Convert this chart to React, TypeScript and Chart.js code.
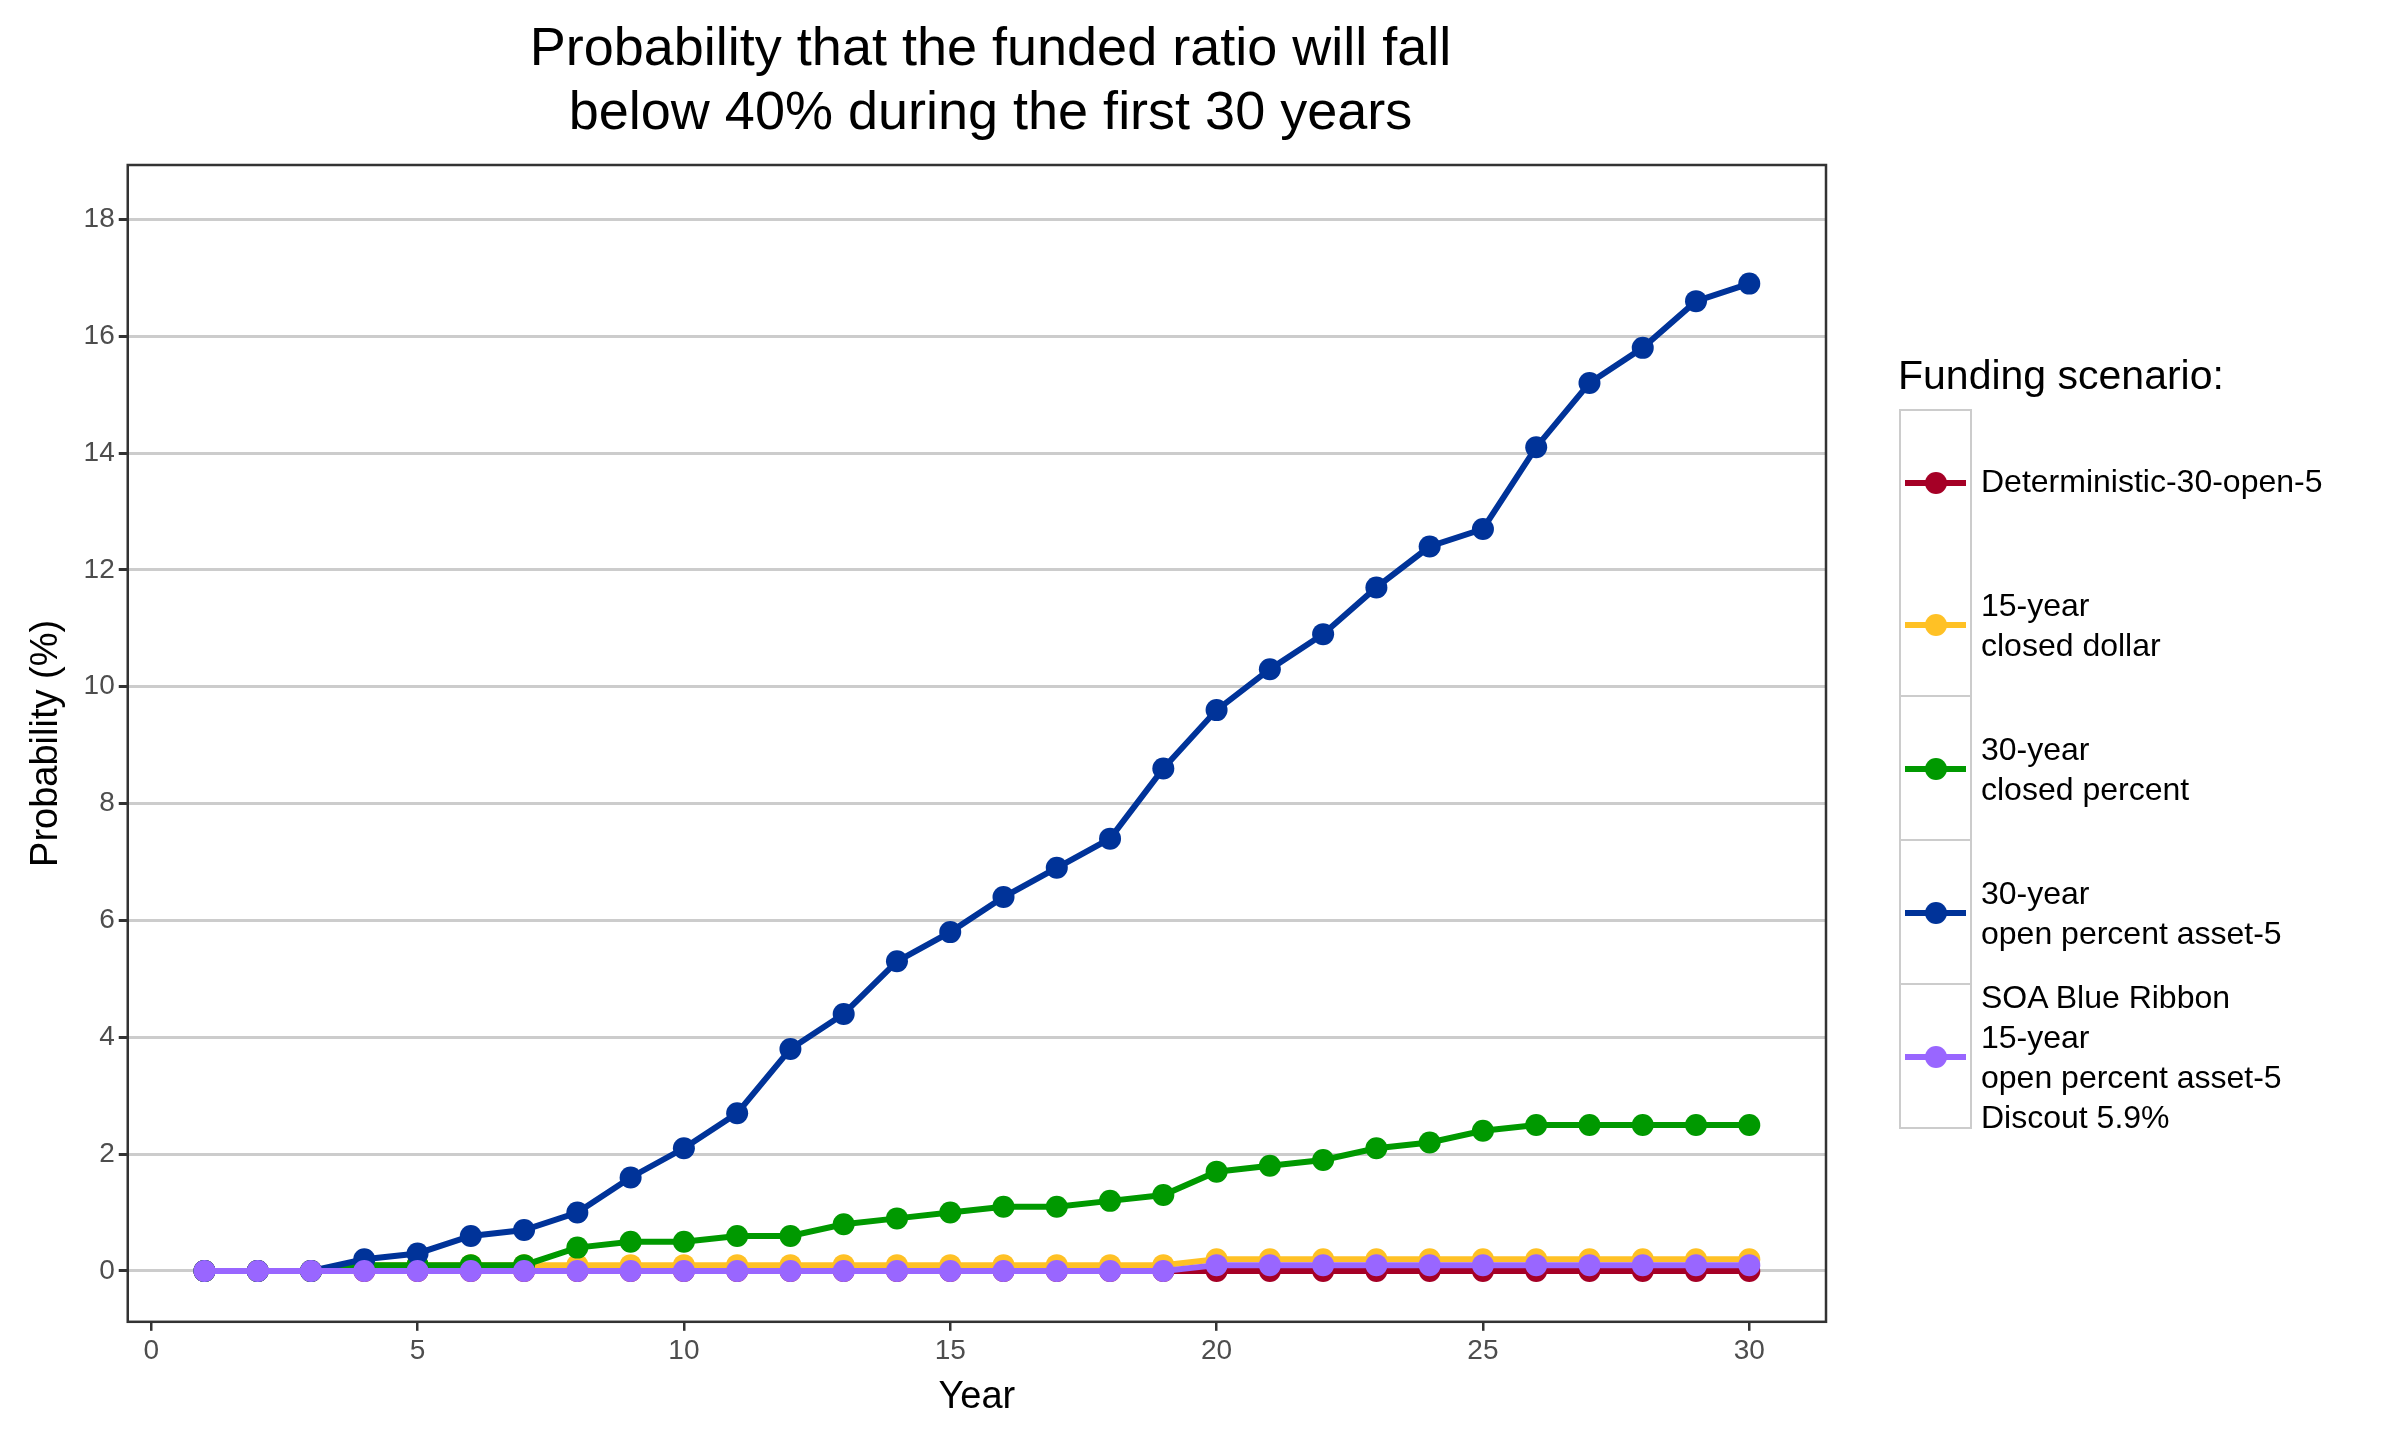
import { useEffect, useRef } from 'react';
import Chart from 'chart.js/auto';

const years = Array.from({ length: 30 }, (_, i) => i + 1);
const deterministic = [0, 0, 0, 0, 0, 0, 0, 0, 0, 0, 0, 0, 0, 0, 0, 0, 0, 0, 0, 0, 0, 0, 0, 0, 0, 0, 0, 0, 0, 0];
const closedDollar15 = [0, 0, 0, 0.1, 0.1, 0.1, 0.1, 0.1, 0.1, 0.1, 0.1, 0.1, 0.1, 0.1, 0.1, 0.1, 0.1, 0.1, 0.1, 0.2, 0.2, 0.2, 0.2, 0.2, 0.2, 0.2, 0.2, 0.2, 0.2, 0.2];
const closedPercent30 = [0, 0, 0, 0.1, 0.1, 0.1, 0.1, 0.4, 0.5, 0.5, 0.6, 0.6, 0.8, 0.9, 1.0, 1.1, 1.1, 1.2, 1.3, 1.7, 1.8, 1.9, 2.1, 2.2, 2.4, 2.5, 2.5, 2.5, 2.5, 2.5];
const openPercent30 = [0, 0, 0, 0.2, 0.3, 0.6, 0.7, 1.0, 1.6, 2.1, 2.7, 3.8, 4.4, 5.3, 5.8, 6.4, 6.9, 7.4, 8.6, 9.6, 10.3, 10.9, 11.7, 12.4, 12.7, 14.1, 15.2, 15.8, 16.6, 16.9];
const soaBlueRibbon = [0, 0, 0, 0, 0, 0, 0, 0, 0, 0, 0, 0, 0, 0, 0, 0, 0, 0, 0, 0.1, 0.1, 0.1, 0.1, 0.1, 0.1, 0.1, 0.1, 0.1, 0.1, 0.1];

const series = [
    { label: ['Deterministic-30-open-5'], data: deterministic, color: '#a50026', order: 5 },
    { label: ['15-year', 'closed dollar'], data: closedDollar15, color: '#ffc125', order: 4 },
    { label: ['30-year', 'closed percent'], data: closedPercent30, color: '#009900', order: 3 },
    { label: ['30-year', 'open percent asset-5'], data: openPercent30, color: '#003399', order: 2 },
    { label: ['SOA Blue Ribbon', '15-year', 'open percent asset-5', 'Discout 5.9%'], data: soaBlueRibbon, color: '#9966ff', order: 1 },
];

const font = '"Liberation Sans", Arial, sans-serif';

const frame = {
    id: 'frame',
    afterDraw(chart: any) {
        const { ctx, chartArea: a } = chart;
        ctx.save();
        ctx.strokeStyle = '#333333';
        ctx.lineWidth = 2.5;
        ctx.strokeRect(a.left, a.top, a.right - a.left, a.bottom - a.top);
        ctx.restore();
    }
};

const App = () => {
    const canvas = useRef<HTMLCanvasElement>(null);

    useEffect(() => {
        const chart = new Chart(canvas.current as HTMLCanvasElement, {
            type: 'line',
            data: {
                labels: years,
                datasets: series.map(s => ({
                    label: s.label.join(' '),
                    data: s.data.map((v, i) => ({ x: years[i], y: v })),
                    borderColor: s.color,
                    backgroundColor: s.color,
                    pointBackgroundColor: s.color,
                    pointBorderWidth: 0,
                    pointRadius: 11,
                    borderWidth: 6,
                    order: s.order,
                }))
            },
            options: {
                animation: false,
                responsive: false,
                layout: { padding: { top: 165, right: 574, left: 20, bottom: 20 } },
                plugins: { legend: { display: false }, title: { display: false }, tooltip: { enabled: false } },
                scales: {
                    x: {
                        type: 'linear',
                        min: -0.44,
                        max: 31.44,
                        afterBuildTicks: (axis: any) => { axis.ticks = [0, 5, 10, 15, 20, 25, 30].map(v => ({ value: v })); },
                        grid: { drawOnChartArea: false, tickLength: 9, tickColor: '#333333', lineWidth: 2.5 },
                        border: { display: false },
                        ticks: { color: '#4d4d4d', font: { family: font, size: 28 }, padding: 4 },
                        title: { display: true, text: 'Year', color: '#000', font: { family: font, size: 38 }, padding: { top: 2, bottom: 0 } },
                    },
                    y: {
                        min: -0.87,
                        max: 18.93,
                        afterBuildTicks: (axis: any) => { axis.ticks = [0, 2, 4, 6, 8, 10, 12, 14, 16, 18].map(v => ({ value: v })); },
                        grid: { color: '#cccccc', lineWidth: 3, tickLength: 9, tickColor: '#333333' },
                        border: { display: false },
                        ticks: { color: '#4d4d4d', font: { family: font, size: 28 }, padding: 4 },
                        title: { display: true, text: 'Probability (%)', color: '#000', font: { family: font, size: 38 }, padding: { bottom: 10 } },
                    }
                }
            },
            plugins: [frame]
        });
        return () => { chart.destroy(); };
    }, []);

    return (
        <div style={{ position: 'relative', width: 2400, height: 1440, margin: -8, background: '#fff', fontFamily: font }}>
            <canvas ref={canvas} width={2400} height={1440} style={{ position: 'absolute', left: 0, top: 0 }}></canvas>
            <div style={{ position: 'absolute', left: 155, width: 1671, top: 14, textAlign: 'center', fontSize: 54, lineHeight: '64px', color: '#000' }}>
                Probability that the funded ratio will fall<br />below 40% during the first 30 years
            </div>
            <div style={{ position: 'absolute', left: 1898, top: 352, fontSize: 41, color: '#000' }}>Funding scenario:</div>
            <div style={{ position: 'absolute', left: 1899, top: 409 }}>
                {series.map((s, i) => (
                    <div key={i} style={{ position: 'relative', height: 144 }}>
                        <div style={{ position: 'absolute', left: 0, top: 0, width: 69, height: 142, border: '2px solid #cccccc', borderTopWidth: i === 0 ? 2 : 0, background: '#fff' }}>
                            <div style={{ position: 'absolute', left: 4, right: 4, top: 69, height: 6, background: s.color }}></div>
                            <div style={{ position: 'absolute', left: 24, top: 61, width: 22, height: 22, borderRadius: 11, background: s.color }}></div>
                        </div>
                        <div style={{ position: 'absolute', left: 82, top: 0, height: 144, display: 'flex', flexDirection: 'column', justifyContent: 'center', fontSize: 32, lineHeight: '40px', color: '#000', whiteSpace: 'nowrap' }}>
                            {s.label.map((l, j) => <div key={j}>{l}</div>)}
                        </div>
                    </div>
                ))}
            </div>
        </div>
    );
};

export default App;
